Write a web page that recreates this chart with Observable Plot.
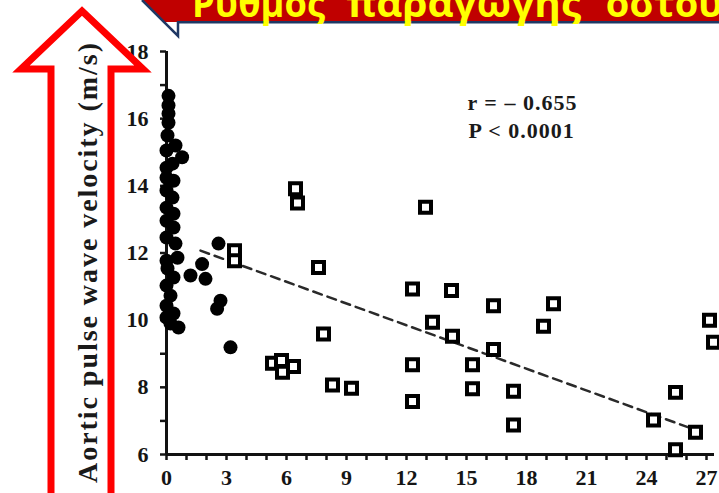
<!DOCTYPE html>
<html><head><meta charset="utf-8">
<script src="https://cdn.jsdelivr.net/npm/d3@7"></script>
<script src="https://cdn.jsdelivr.net/npm/@observablehq/plot@0.6"></script>
<style>
html,body{margin:0;padding:0;background:#fff;}
#wrap{position:relative;width:719px;height:493px;overflow:hidden;background:#fff;}
#wrap > svg{position:absolute;left:0;top:0;}
</style></head><body>
<div id="wrap"></div>
<script>
const titleWords = ["Ρυθμός", "παραγωγής", "οστού"];
const yLabel = "Aortic pulse wave velocity (m/s)";
const statLines = ["r = – 0.655", "P < 0.0001"];

// filled circles (group 1)
const circleX = [0.1,0.1,0.1,0.1,0.05,0,0.45,0.78,0,0.3,0,0.35,0,0.3,0,0.35,0,0.35,0,0.45,0,0.55,0.05,0.35,0,0.2,0,0,0.35,0.6,0.2,1.2,1.78,1.95,2.7,2.53,3.2,2.6];
const circleY = [16.68,16.39,16.15,15.88,15.5,15.05,15.2,14.85,14.54,14.66,14.24,14.15,13.86,13.65,13.35,13.17,12.96,12.76,12.46,12.28,11.77,11.86,11.54,11.27,11.03,10.73,10.43,10.08,10.2,9.78,9.9,11.33,11.67,11.23,10.58,10.34,9.19,12.28];

// open squares (group 2)
const squareX = [6.45,6.55,12.95,3.4,3.4,7.6,12.3,14.25,16.35,19.35,18.85,13.3,14.3,16.35,7.85,5.3,5.75,6.35,5.8,8.3,9.25,12.3,15.3,15.3,17.35,12.3,17.35,27.15,27.35,25.45,24.35,26.45,25.45];
const squareY = [13.91,13.49,13.36,12.07,11.77,11.57,10.93,10.88,10.43,10.49,9.82,9.94,9.52,9.13,9.59,8.72,8.8,8.62,8.45,8.07,7.97,8.67,8.67,7.96,7.88,7.58,6.88,10.0,9.34,7.85,7.03,6.66,6.14];

// regression line end points
const regX = [1.7, 26.55];
const regY = [12.07, 6.71];

const xTicks = d3.range(0, 28);
const xTickLabels = [0,3,6,9,12,15,18,21,24,27];
const yTicks = d3.range(6, 19);
const yTickLabels = [6,8,10,12,14,16,18];

const circles = circleX.map((x, i) => ({x, y: circleY[i]}));
const squares = squareX.map((x, i) => ({x, y: squareY[i]}));
const reg = regX.map((x, i) => ({x, y: regY[i]}));

const serif = "'Liberation Serif', 'Times New Roman', serif";

const chart = Plot.plot({
  width: 719, height: 493,
  marginLeft: 166, marginRight: 5, marginTop: 51, marginBottom: 39,
  x: {domain: [0, 27.4]},
  y: {domain: [6, 18]},
  style: {background: "white", color: "#151515", fontFamily: serif, overflow: "visible"},
  marks: [
    Plot.axisY({ticks: yTicks, tickSize: 6, tickPadding: 12, strokeWidth: 2.5,
      tickFormat: d => yTickLabels.includes(d) ? String(d) : "",
      fontSize: 22, fontWeight: "bold", label: null}),
    Plot.axisX({ticks: xTicks, tickSize: 6, tickPadding: 9, strokeWidth: 2.5,
      tickFormat: d => xTickLabels.includes(d) ? String(d) : "",
      fontSize: 22, fontWeight: "bold", label: null}),
    Plot.ruleX([0], {y1: 6, y2: 18, stroke: "#111", strokeWidth: 3}),
    Plot.ruleY([6], {x1: 0, x2: 27.4, stroke: "#111", strokeWidth: 3}),
    Plot.line(reg, {x: "x", y: "y", stroke: "#2a2a2a", strokeWidth: 2.5, strokeDasharray: "9,6"}),
    Plot.dot(circles, {x: "x", y: "y", r: 7, fill: "#000", stroke: "none"}),
    Plot.dot(squares, {x: "x", y: "y", symbol: "square", r: 6.2, fill: "#fff", stroke: "#000", strokeWidth: 4}),
    Plot.text([statLines[0]], {x: 15.05, y: 16.48, text: d => d, textAnchor: "start", fontSize: 22, fontWeight: "bold", fill: "#1a1a1a", className: "stat"}),
    Plot.text([statLines[1]], {x: 15.1, y: 15.64, text: d => d, textAnchor: "start", fontSize: 22, fontWeight: "bold", fill: "#1a1a1a", className: "stat"})
  ]
});
document.getElementById("wrap").appendChild(chart);
d3.select(chart).selectAll(".stat text").attr("letter-spacing", "1px");

// Overlay: red arrow with axis title, and the title banner
const ov = d3.select("#wrap").append("svg")
  .attr("width", 719).attr("height", 493)
  .style("pointer-events", "none");

ov.append("polygon")
  .attr("points", "82,11 143,69 111,69 111,510 51,510 51,69 21,69")
  .attr("fill", "#fff").attr("stroke", "#ff0000").attr("stroke-width", 7)
  .attr("stroke-linejoin", "miter");

ov.append("text")
  .attr("transform", "translate(97,263) rotate(-90)")
  .attr("text-anchor", "middle")
  .attr("font-family", serif).attr("font-weight", "bold").attr("font-size", 28)
  .attr("fill", "#1a1a1a")
  .attr("textLength", 440).attr("lengthAdjust", "spacing")
  .text(yLabel);

ov.append("polygon")
  .attr("points", "143,0 719,0 719,22 165,22")
  .attr("fill", "#c00000");
ov.append("polyline")
  .attr("points", "142,0 178,36 178,22.3 719,22.3")
  .attr("fill", "none").attr("stroke", "#1f3864").attr("stroke-width", 2.5);

const t = ov.append("text")
  .attr("y", 17)
  .attr("font-family", "'Open Sans', 'Noto Sans', sans-serif")
  .attr("font-weight", "bold").attr("font-size", 38)
  .attr("fill", "#ffff00");
t.append("tspan").attr("x", 192).attr("textLength", 133).attr("lengthAdjust", "spacingAndGlyphs").text(titleWords[0]);
t.append("tspan").attr("x", 336).attr("textLength", 245).attr("lengthAdjust", "spacingAndGlyphs").text(" " + titleWords[1]);
t.append("tspan").attr("x", 596).text(" " + titleWords[2]);
</script>
</body></html>
